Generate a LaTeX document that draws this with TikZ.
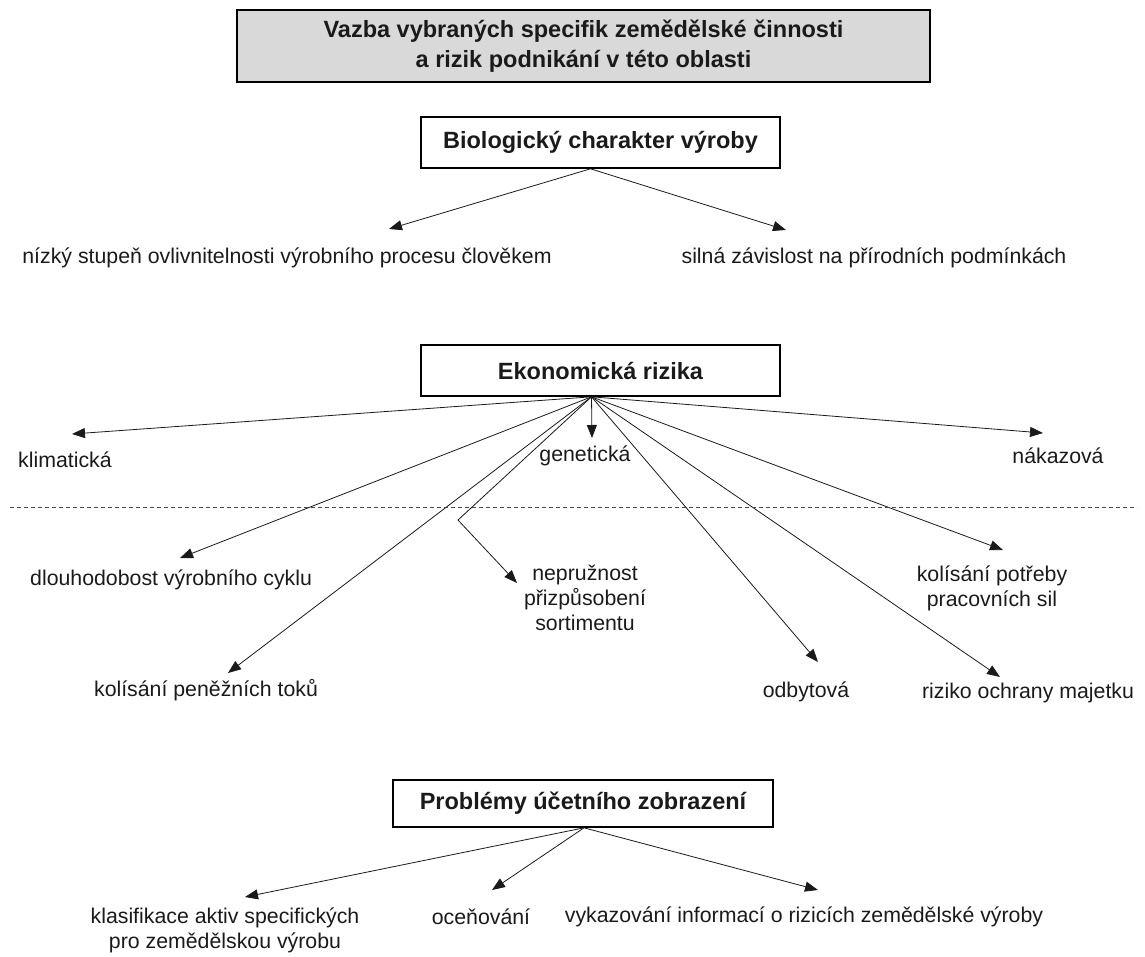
\documentclass[tikz,border=0pt]{standalone}
\usepackage{fontspec}
\setmainfont{Liberation Sans}
\usetikzlibrary{arrows.meta,positioning,calc}
\definecolor{titlegray}{HTML}{D9D9D9}
\definecolor{inkgray}{HTML}{1A1A1A}

\begin{document}
\begin{tikzpicture}[x=1pt, y=-1pt,
    every node/.style={font=\fontsize{21.3}{25}\selectfont, text=inkgray, align=center, inner sep=0pt},
    headbox/.style={draw, line width=1.6pt, minimum width=359pt, minimum height=51pt,
      font=\fontsize{23.5}{28}\selectfont\bfseries},
    link/.style={draw=inkgray, line width=0.8pt, -{Triangle[length=13pt,width=10pt]}}]
    \useasboundingbox (0,0) rectangle (1145,956);

    % title
    \node[headbox, fill=titlegray, minimum width=693pt, minimum height=72pt,
      font=\fontsize{23.5}{30}\selectfont\bfseries] (title) at (583.5,46)
      {Vazba vybraných specifik zemědělské činnosti\\a rizik podnikání v této oblasti};

    % biological character
    \node[headbox] (bio) at (600.5,142.5) {Biologický charakter výroby};
    \node (nizky) at (287,258) {nízký stupeň ovlivnitelnosti výrobního procesu člověkem};
    \node (silna) at (874,258) {silná závislost na přírodních podmínkách};
    \coordinate (bioHub) at ([xshift=-10pt]bio.south);
    \coordinate (nizkyTip) at (389,229);
    \coordinate (silnaTip) at (786,230);
    \draw[link] (bioHub) -- (nizkyTip);
    \draw[link] (bioHub) -- (silnaTip);

    % economic risks
    \node[headbox] (eko) at (600.5,370.5) {Ekonomická rizika};
    \coordinate (ekoHub) at ([xshift=-9pt]eko.south);
    \node[anchor=west] (klim) at (18,460) {klimatická};
    \node (genet) at (585,456) {genetická};
    \node (nakaz) at (1058,456) {nákazová};
    \node[anchor=west] (dlouho) at (30,580) {dlouhodobost výrobního cyklu};
    \node (nepruz) at (585,598) {nepružnost\\přizpůsobení\\sortimentu};
    \node (potreby) at (992,588) {kolísání potřeby\\pracovních sil};
    \node (penez) at (206,690) {kolísání peněžních toků};
    \node (odbyt) at (806,692) {odbytová};
    \node (majetek) at (1028,693) {riziko ochrany majetku};

    \coordinate (klimTip) at (72,434);
    \coordinate (genetTip) at (592,438);
    \coordinate (nakazTip) at (1043,433);
    \coordinate (dlouhoTip) at (180,558);
    \coordinate (nepruzBend) at (458,520);
    \coordinate (nepruzTip) at (517,583);
    \coordinate (potrebyTip) at (1003,550);
    \coordinate (penezTip) at (228,673);
    \coordinate (odbytTip) at (818,662);
    \coordinate (majetekTip) at (1000,677);

    \foreach \t in {klimTip,genetTip,nakazTip,dlouhoTip,potrebyTip,penezTip,odbytTip,majetekTip}
      \draw[link] (ekoHub) -- (\t);
    \draw[link] (ekoHub) -- (nepruzBend) -- (nepruzTip);

    % divider
    \draw[dashed, draw=inkgray!80, line width=0.8pt, dash pattern=on 4pt off 3pt] (10,507) -- (1137,507);

    % accounting problems
    \node[headbox, minimum width=380pt, minimum height=47pt] (ucet) at (583,803.5) {Problémy účetního zobrazení};
    \coordinate (ucetHub) at ([xshift=1pt]ucet.south);
    \node (klasif) at (225,930) {klasifikace aktiv specifických\\pro zemědělskou výrobu};
    \node (ocen) at (481,917) {oceňování};
    \node (vykaz) at (804,917) {vykazování informací o rizicích zemědělské výroby};
    \coordinate (klasifTip) at (245,897);
    \coordinate (ocenTip) at (492,890);
    \coordinate (vykazTip) at (818,890);
    \foreach \t in {klasifTip,ocenTip,vykazTip}
      \draw[link] (ucetHub) -- (\t);
\end{tikzpicture}
\end{document}
